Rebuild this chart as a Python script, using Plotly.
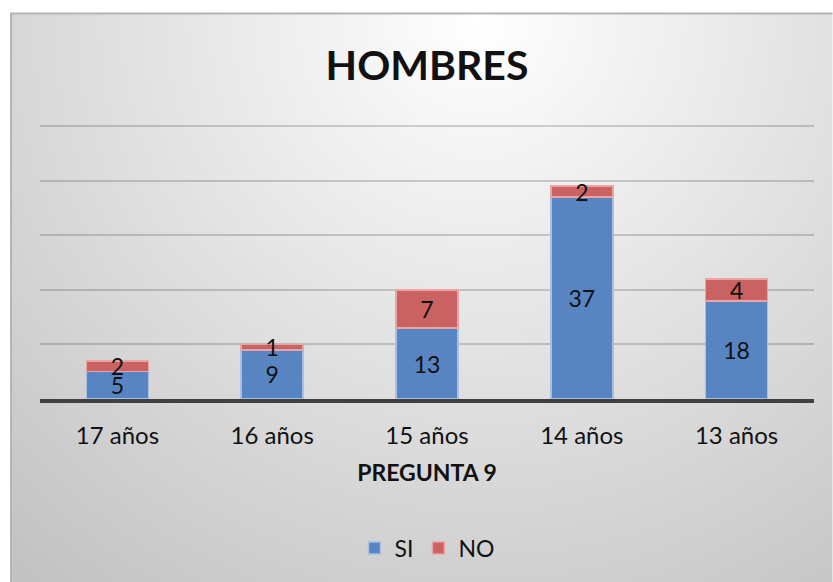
"""Stacked bar chart: HOMBRES - Pregunta 9."""

import base64

import plotly.graph_objects as go

CATEGORIES = ["17 años", "16 años", "15 años", "14 años", "13 años"]
SI_VALUES = [5, 9, 13, 37, 18]
NO_VALUES = [2, 1, 7, 2, 4]

BLUE = "#5986c4"
BLUE_EDGE = "#a9c0e2"
RED = "#cc6463"
RED_EDGE = "#e9a4a3"
FONT = "Lato, 'Open Sans', sans-serif"

W, H = 833, 582
L, R, T, B = 39.5, 18.5, 125, 183
PW, PH = W - L - R, H - T - B

# radial grey background with a thin frame, as an inline svg
svg = f"""<svg xmlns='http://www.w3.org/2000/svg' width='{W}' height='{H}'>
<defs><radialGradient id='g' gradientUnits='userSpaceOnUse' cx='480' cy='20' r='720'>
<stop offset='0' stop-color='#ffffff'/><stop offset='1' stop-color='#c2c2c2'/>
</radialGradient></defs>
<rect x='0' y='0' width='{W}' height='{H}' fill='#ffffff'/>
<rect x='10.5' y='13.5' width='{W + 20}' height='{H + 20}' fill='url(#g)' stroke='#b4b4b4' stroke-width='2'/>
</svg>"""
bg_src = "data:image/svg+xml;base64," + base64.b64encode(svg.encode()).decode()

fig = go.Figure()
fig.add_trace(
    go.Bar(
        x=CATEGORIES,
        y=SI_VALUES,
        name="SI",
        text=[str(v) for v in SI_VALUES],
        marker=dict(
            color=BLUE,
            line=dict(color=BLUE_EDGE, width=1.5),
            pattern=dict(shape=".", size=3, solidity=0.35, fgcolor="#4d7ab8", bgcolor=BLUE),
        ),
    )
)
fig.add_trace(
    go.Bar(
        x=CATEGORIES,
        y=NO_VALUES,
        name="NO",
        text=[str(v) for v in NO_VALUES],
        marker=dict(
            color=RED,
            line=dict(color=RED_EDGE, width=1.5),
            pattern=dict(shape=".", size=3, solidity=0.35, fgcolor="#bd5655", bgcolor=RED),
        ),
    )
)
fig.update_traces(
    textposition="inside",
    insidetextanchor="middle",
    constraintext="none",
    textangle=0,
    textfont=dict(size=23, color="#111111", family=FONT),
    hoverinfo="skip",
)

fig.update_layout(
    width=W,
    height=H,
    barmode="stack",
    bargap=0.6,
    margin=dict(l=L, r=R, t=T, b=B, pad=0),
    paper_bgcolor="white",
    plot_bgcolor="rgba(0,0,0,0)",
    font=dict(family=FONT, color="#111111"),
    title=dict(
        text="<b>HOMBRES</b>",
        font=dict(size=41, family=FONT, color="#111111"),
        x=427 / W,
        xanchor="center",
        yref="container",
        y=(H - 66) / H,
        yanchor="middle",
    ),
    showlegend=True,
    legend=dict(
        orientation="h",
        traceorder="normal",
        x=0.5,
        xanchor="center",
        y=(399 - 548) / PH,
        yanchor="middle",
        font=dict(size=23, family=FONT, color="#111111"),
        bgcolor="rgba(0,0,0,0)",
        itemwidth=30,
    ),
    xaxis=dict(
        showgrid=False,
        showline=True,
        linecolor="#404040",
        linewidth=4,
        ticks="",
        ticklabelstandoff=12,
        tickfont=dict(size=24, family=FONT, color="#111111"),
        title=dict(
            text="<b>PREGUNTA 9</b>",
            font=dict(size=23, family=FONT, color="#111111"),
            standoff=18,
        ),
        layer="above traces",
    ),
    yaxis=dict(
        range=[0, 50.2],
        dtick=10,
        showticklabels=False,
        showgrid=True,
        gridcolor="rgba(0,0,0,0.17)",
        gridwidth=2,
        zeroline=False,
        showline=False,
        layer="above traces",
    ),
    images=[
        dict(
            source=bg_src,
            xref="paper",
            yref="paper",
            x=-L / PW,
            y=1 + T / PH,
            sizex=W / PW,
            sizey=H / PH,
            xanchor="left",
            yanchor="top",
            sizing="stretch",
            layer="below",
        )
    ],
)

fig.write_html(
    "out.html",
    config={"displayModeBar": False},
    post_script="document.body.style.margin='0';",
)
